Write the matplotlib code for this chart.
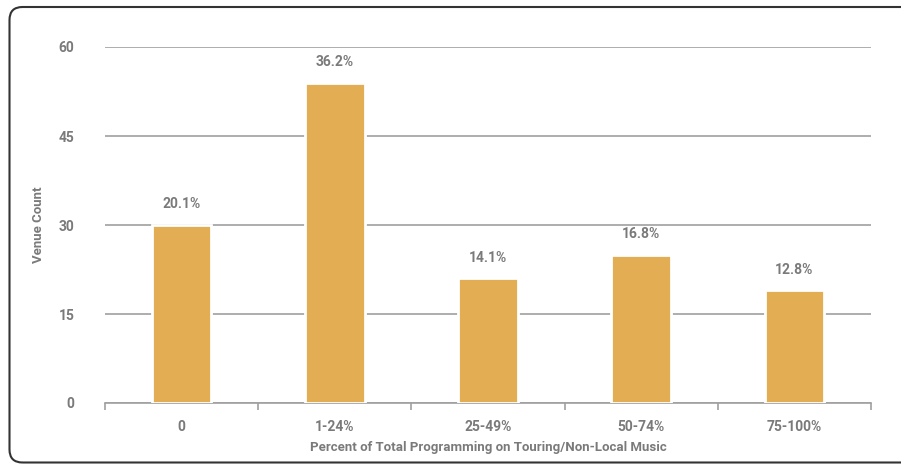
import matplotlib
matplotlib.use("Agg")
import matplotlib.pyplot as plt
from matplotlib.patches import FancyBboxPatch

categories = ["0", "1-24%", "25-49%", "50-74%", "75-100%"]
venue_counts = [30, 54, 21, 25, 19]
percent_labels = ["20.1%", "36.2%", "14.1%", "16.8%", "12.8%"]
y_ticks = [0, 15, 30, 45, 60]

bar_color = "#E3AD53"
text_color = "#7a7a7a"
grid_color = "#a0a0a0"

plt.rcParams["font.family"] = ["Roboto", "DejaVu Sans"]
plt.rcParams["font.weight"] = "bold"
plt.rcParams["axes.labelweight"] = "bold"

fig = plt.figure(figsize=(9.01, 4.66), dpi=100)
ax = fig.add_axes([105 / 901, 1 - 403 / 466, 766 / 901, 356 / 466])

# rounded frame around the whole chart (in inches, runs off the right edge)
frame = FancyBboxPatch((0.095, 0.035), 9.3, 4.555,
                       boxstyle="round,pad=0,rounding_size=0.13",
                       transform=fig.dpi_scale_trans, fill=False,
                       edgecolor="#333333", linewidth=1.5)
fig.patches.append(frame)

x = range(len(categories))
bars = ax.bar(x, venue_counts, width=0.39, color=bar_color,
              edgecolor="white", linewidth=2, zorder=3)

for b, lab in zip(bars, percent_labels):
    ax.text(b.get_x() + b.get_width() / 2, b.get_height() + 2.3, lab,
            ha="center", va="bottom", fontsize=10, color=text_color,
            fontweight="bold")

ax.set_xlim(-0.5, len(categories) - 0.5)
ax.set_ylim(0, 60)
ax.set_yticks(y_ticks)
ax.set_yticklabels([str(t) for t in y_ticks], color=text_color, fontsize=10)
ax.yaxis.grid(True, color=grid_color, linewidth=1.2, zorder=0)
ax.tick_params(axis="y", length=0, pad=22)

ax.set_xticks(list(x))
ax.set_xticklabels(categories, color=text_color, fontsize=10)
ax.tick_params(axis="x", length=0, pad=12)
# boundary ticks between categories
ax.set_xticks([i - 0.5 for i in range(len(categories) + 1)], minor=True)
ax.tick_params(axis="x", which="minor", length=5, color=grid_color, width=1.2)

for s in ["top", "right", "left"]:
    ax.spines[s].set_visible(False)
ax.spines["bottom"].set_color(grid_color)
ax.spines["bottom"].set_linewidth(1.2)

ax.set_ylabel("Venue Count", color=text_color, fontsize=9.5)
ax.yaxis.set_label_coords(-0.078, 0.5)
ax.set_xlabel("Percent of Total Programming on Touring/Non-Local Music",
              color=text_color, fontsize=9.5, labelpad=5)

fig.savefig("out.png", dpi=100)
